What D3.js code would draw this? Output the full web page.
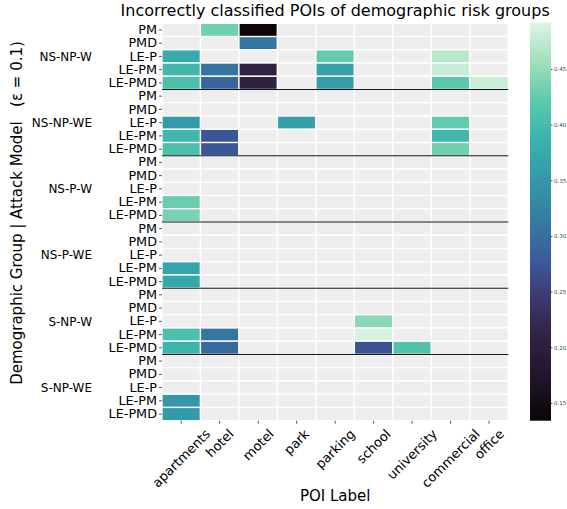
<!DOCTYPE html>
<html>
<head>
<meta charset="utf-8">
<script src="https://cdn.jsdelivr.net/npm/d3@7"></script>
<style>
  body { margin: 0; background: #fff; }
  text { font-family: "DejaVu Sans", sans-serif; }
</style>
</head>
<body>
<div class="Heatmap"></div>
<script>
// POI columns and attack-model rows
const pois = ["apartments", "hotel", "motel", "park", "parking", "school", "university", "commercial", "office"];
const attacks = ["PM", "PMD", "LE-P", "LE-PM", "LE-PMD"];
const groups = ["NS-NP-W", "NS-NP-WE", "NS-P-W", "NS-P-WE", "S-NP-W", "S-NP-WE"];

// share of incorrectly classified POIs, one row per attack (null = no value)
const nsNpW = [
  [null, 0.431, 0.137, null, null, null, null, null, null],
  [null, null, 0.306, null, null, null, null, null, null],
  [0.374, null, null, null, 0.424, null, null, 0.470, null],
  [0.395, 0.306, 0.209, null, 0.363, null, null, 0.478, null],
  [0.406, 0.288, 0.207, null, 0.356, null, null, 0.420, 0.480]
];
const nsNpWE = [
  [null, null, null, null, null, null, null, null, null],
  [null, null, null, null, null, null, null, null, null],
  [0.352, null, null, 0.360, null, null, null, 0.424, null],
  [0.392, 0.274, null, null, null, null, null, 0.392, null],
  [0.406, 0.274, null, null, null, null, null, 0.431, null]
];
const nsPW = [
  [null, null, null, null, null, null, null, null, null],
  [null, null, null, null, null, null, null, null, null],
  [null, null, null, null, null, null, null, null, null],
  [0.428, null, null, null, null, null, null, null, null],
  [0.435, null, null, null, null, null, null, null, null]
];
const nsPWE = [
  [null, null, null, null, null, null, null, null, null],
  [null, null, null, null, null, null, null, null, null],
  [null, null, null, null, null, null, null, null, null],
  [0.367, null, null, null, null, null, null, null, null],
  [0.370, null, null, null, null, null, null, null, null]
];
const sNpW = [
  [null, null, null, null, null, null, null, null, null],
  [null, null, null, null, null, null, null, null, null],
  [null, null, null, null, null, 0.445, null, null, null],
  [0.406, 0.309, null, null, null, 0.488, null, null, null],
  [0.388, 0.292, null, null, null, 0.270, 0.410, null, null]
];
const sNpWE = [
  [null, null, null, null, null, null, null, null, null],
  [null, null, null, null, null, null, null, null, null],
  [null, null, null, null, null, null, null, null, null],
  [0.349, null, null, null, null, null, null, null, null],
  [0.352, null, null, null, null, null, null, null, null]
];
const groupValues = [nsNpW, nsNpWE, nsPW, nsPWE, sNpW, sNpWE];

const colorTicks = [0.15, 0.20, 0.25, 0.30, 0.35, 0.40, 0.45];
const vMin = 0.134, vMax = 0.492;

// rough copy of seaborn "mako"
const makoColors = ["#0b0405", "#1f1428", "#30203f", "#3d356c", "#3b5a9b", "#357ba2",
                    "#3497a9", "#38b2ac", "#5ac8ae", "#a0dfb9", "#def5e5"];

const width = 567, height = 509;
const mapLeft = 162, mapRight = 508.3, mapTop = 23.3, mapBottom = 420.7;

const cells = [];
const rowKeys = [];
groups.forEach((g, gi) => {
  attacks.forEach((a, ai) => {
    const key = g + "|" + a;
    rowKeys.push(key);
    pois.forEach((p, pi) => {
      cells.push({ key: key, poi: p, value: groupValues[gi][ai][pi] });
    });
  });
});

const x = d3.scaleBand().domain(pois).range([mapLeft, mapRight]);
const y = d3.scaleBand().domain(rowKeys).range([mapTop, mapBottom]);

const color = d3.scaleLinear()
  .domain(makoColors.map((c, i) => vMin + (vMax - vMin) * i / (makoColors.length - 1)))
  .range(makoColors)
  .clamp(true);

const svg = d3.select(".Heatmap")
  .append("svg")
  .attr("width", width)
  .attr("height", height);

// cells
svg.append("g")
  .selectAll("rect")
  .data(cells)
  .enter()
  .append("rect")
  .attr("x", d => x(d.poi))
  .attr("y", d => y(d.key))
  .attr("width", x.bandwidth())
  .attr("height", y.bandwidth())
  .attr("fill", d => d.value == null ? "#eeeeee" : color(d.value))
  .attr("stroke", "#fff")
  .attr("stroke-width", 1.3);

// group separators
svg.append("g")
  .selectAll("line")
  .data(groups.slice(1))
  .enter()
  .append("line")
  .attr("x1", mapLeft)
  .attr("x2", mapRight)
  .attr("y1", d => y(d + "|PM"))
  .attr("y2", d => y(d + "|PM"))
  .attr("stroke", "#111")
  .attr("stroke-width", 1);

// y axis (attack names)
const yAxis = svg.append("g")
  .attr("transform", `translate(${mapLeft},0)`)
  .call(d3.axisLeft(y).tickSize(3).tickPadding(2).tickFormat(d => d.split("|")[1]));
yAxis.select(".domain").remove();
yAxis.selectAll(".tick line").attr("stroke", "#555");
yAxis.selectAll(".tick text")
  .attr("font-size", 12.8)
  .attr("fill", "#000")
  .style("font-family", "DejaVu Sans");

// group names
svg.append("g")
  .selectAll("text")
  .data(groups)
  .enter()
  .append("text")
  .attr("x", 92)
  .attr("y", d => y(d + "|LE-P") + y.bandwidth() / 2)
  .attr("dy", "0.36em")
  .attr("text-anchor", "end")
  .attr("font-size", 12)
  .text(d => d);

// x axis
const xAxis = svg.append("g")
  .attr("transform", `translate(0,${mapBottom})`)
  .call(d3.axisBottom(x).tickSize(3).tickFormat(""));
xAxis.select(".domain").remove();
xAxis.selectAll(".tick line").attr("stroke", "#555");

// rotated x tick labels, centred under the tick
const xLabels = svg.append("g")
  .selectAll("text")
  .data(pois)
  .enter()
  .append("text")
  .attr("text-anchor", "middle")
  .attr("dy", "0.35em")
  .attr("font-size", 13)
  .text(d => d);
xLabels.each(function(d) {
  const len = this.getComputedTextLength();
  const half = (len + 11) / 2 * Math.SQRT1_2;
  d3.select(this).attr("transform",
    `translate(${x(d) + x.bandwidth() / 2},${mapBottom + 7 + half}) rotate(-45)`);
});

// titles
svg.append("text")
  .attr("x", (mapLeft + mapRight) / 2)
  .attr("y", 16)
  .attr("text-anchor", "middle")
  .attr("font-size", 16)
  .text("Incorrectly classified POIs of demographic risk groups");

svg.append("text")
  .attr("x", (mapLeft + mapRight) / 2)
  .attr("y", 501)
  .attr("text-anchor", "middle")
  .attr("font-size", 15)
  .text("POI Label");

svg.append("text")
  .attr("transform", `translate(21.5,213) rotate(-90)`)
  .attr("text-anchor", "middle")
  .attr("font-size", 15)
  .style("white-space", "pre")
  .text("Demographic Group | Attack Model   (\u03b5 = 0.1)");

// colorbar
const cbX = 530, cbW = 21, cbTop = 22.3, cbBottom = 420.7;
const cbScale = d3.scaleLinear().domain([vMin, vMax]).range([cbBottom, cbTop]);

const grad = svg.append("defs")
  .append("linearGradient")
  .attr("id", "cbGrad")
  .attr("x1", 0).attr("y1", 1)
  .attr("x2", 0).attr("y2", 0);
grad.selectAll("stop")
  .data(d3.range(0, 1.0001, 0.02))
  .enter()
  .append("stop")
  .attr("offset", d => d)
  .attr("stop-color", d => color(vMin + d * (vMax - vMin)));

svg.append("rect")
  .attr("x", cbX)
  .attr("y", cbTop)
  .attr("width", cbW)
  .attr("height", cbBottom - cbTop)
  .attr("fill", "url(#cbGrad)");

const cbAxis = svg.append("g")
  .attr("transform", `translate(${cbX + cbW},0)`)
  .call(d3.axisRight(cbScale).tickValues(colorTicks).tickSize(1.5).tickPadding(1.5).tickFormat(d3.format(".2f")));
cbAxis.select(".domain").remove();
cbAxis.selectAll(".tick line").attr("stroke", "#444");
cbAxis.selectAll(".tick text")
  .attr("font-size", 5.5)
  .attr("fill", "#444")
  .style("font-family", "DejaVu Sans");
</script>
</body>
</html>
